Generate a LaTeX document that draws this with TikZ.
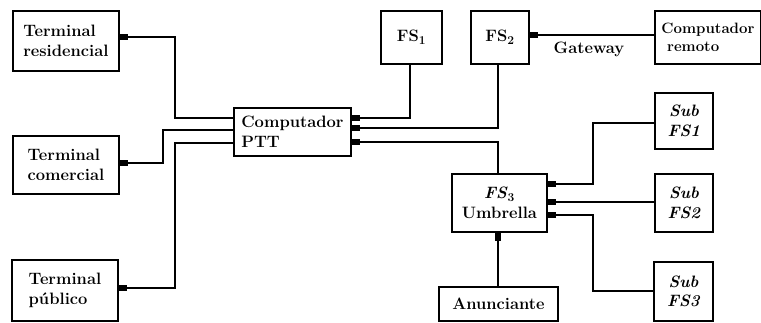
\documentclass[tikz,border=0pt]{standalone}
\usetikzlibrary{arrows.meta}
\begin{document}
\begin{tikzpicture}[x=1pt,y=-1pt,
  box/.style={draw, line width=1.9pt, inner sep=0pt, anchor=north west, align=left,
    font=\fontsize{16.5}{19.5}\selectfont\bfseries},
  conn/.style={line width=1.9pt},
  arr/.style={conn, -{Rectangle[length=8pt,width=6pt]}},
  lbl/.style={font=\fontsize{16.5}{19.5}\selectfont\bfseries}]
\useasboundingbox (0,0) rectangle (761,322);
% left terminals
\node[box, minimum width=106pt, minimum height=60pt] (tr) at (12,10) {Terminal\\residencial};
\node[box, minimum width=106pt, minimum height=58pt] (tc) at (12,135) {Terminal\\comercial};
\node[box, minimum width=106pt, minimum height=61pt] (tp) at (11,259) {Terminal\\p\'ublico};
% central
\node[box, minimum width=117pt, minimum height=48pt] (ptt) at (233,107) {Computador\\PTT};
\node[box, minimum width=61pt, minimum height=53pt] (fs1) at (380,10) {FS$_{\mathbf{1}}$};
\node[box, minimum width=58pt, minimum height=53pt] (fs2) at (470,10) {FS$_{\mathbf{2}}$};
\node[box, minimum width=106pt, minimum height=53pt, font=\fontsize{15}{18.5}\selectfont\bfseries] (cr) at (654,10) {Computador\\\ remoto};
\node[box, minimum width=95pt, minimum height=58pt, align=center] (fs3) at (451,173) {\textit{FS}$_{\mathbf{3}}$\\Umbrella};
\node[box, minimum width=119pt, minimum height=34pt] (an) at (438,286) {Anunciante};
\node[box, minimum width=58pt, minimum height=56pt, align=center] (s1) at (654,92) {\itshape Sub\\\itshape FS1};
\node[box, minimum width=58pt, minimum height=58pt, align=center] (s2) at (654,173) {\itshape Sub\\\itshape FS2};
\node[box, minimum width=59pt, minimum height=59pt, align=center] (s3) at (653,261) {\itshape Sub\\\itshape FS3};
% gateway
\node[lbl] (gw) at (589,49) {Gateway};
% coordinates
\coordinate (jl1) at (175,118);
\coordinate (jl2) at (163,130);
\coordinate (jl3) at (175,143);
\coordinate (jr1) at (410,118);
\coordinate (jr2) at (498,128);
\coordinate (jr3) at (498,142);
\coordinate (js1) at (593,184);
\coordinate (js3) at (593,215);
% left connectors
\draw[arr] (ptt.west |- jl1) -| (jl1) |- (tr.east |- 0,37);
\draw[arr] (ptt.west |- jl2) -| (jl2) |- (tc.east |- 0,163);
\draw[arr] (ptt.west |- jl3) -| (jl3) |- (tp.east |- 0,288);
% right connectors to PTT
\draw[arr] (fs1.south -| jr1) |- (ptt.east |- jr1);
\draw[arr] (fs2.south -| jr2) |- (ptt.east |- jr2);
\draw[arr] (fs3.north -| jr3) |- (ptt.east |- jr3);
% gateway
\draw[arr] (cr.west |- 0,35) -- (fs2.east |- 0,35);
% subs
\draw[arr] (s1.west |- 0,123) -| (js1) -- (fs3.east |- js1);
\draw[arr] (s2.west |- 0,202) -- (fs3.east |- 0,202);
\draw[arr] (s3.west |- 0,291) -| (js3) -- (fs3.east |- js3);
\draw[arr] (an.north -| jr3) -- (fs3.south -| jr3);
\end{tikzpicture}
\end{document}
